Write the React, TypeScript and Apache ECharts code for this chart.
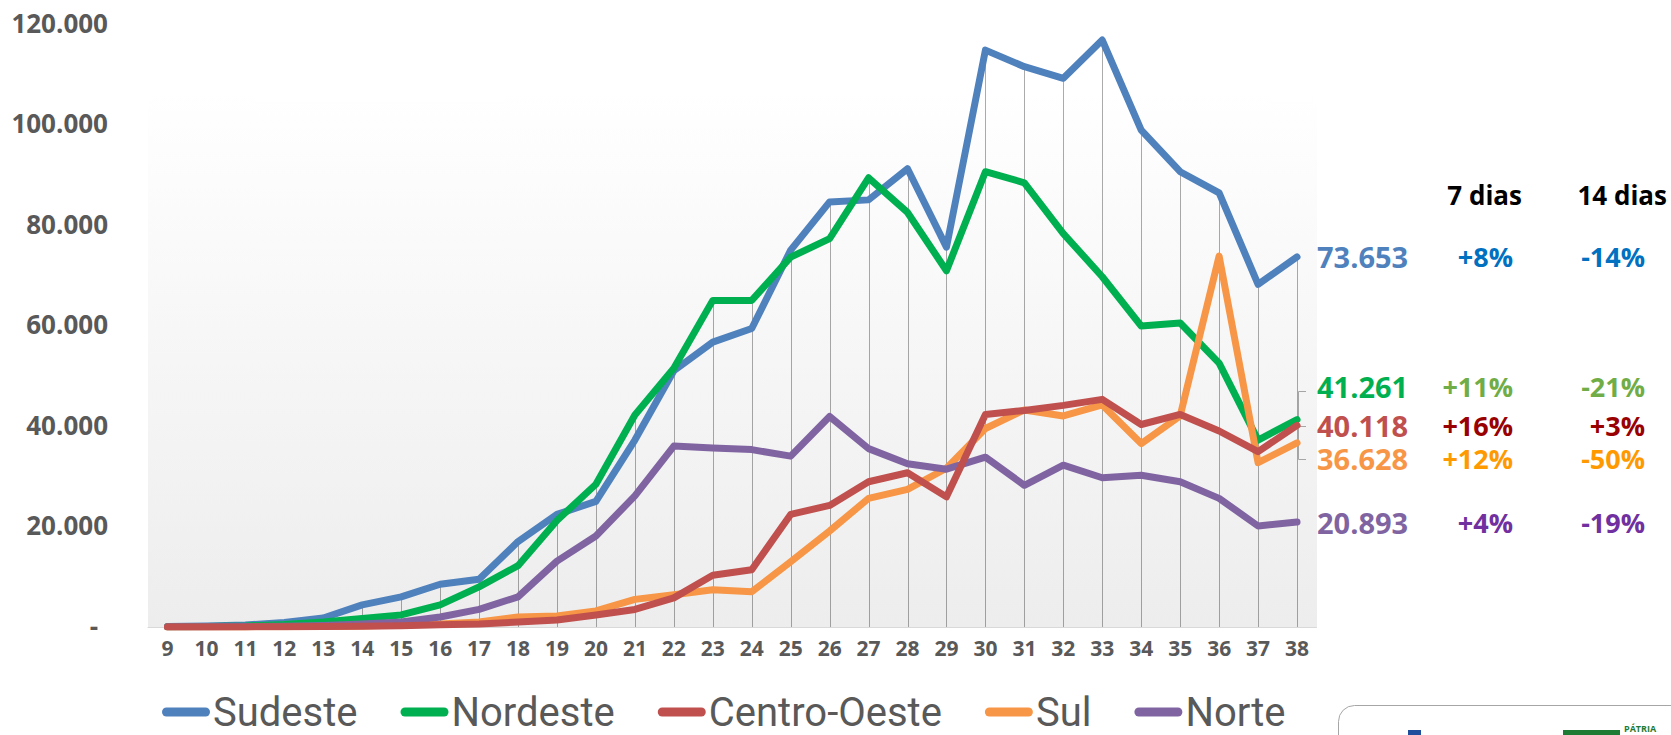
import React, { useEffect, useRef } from 'react';
import * as echarts from 'echarts';

const weeks = ['9', '10', '11', '12', '13', '14', '15', '16', '17', '18', '19', '20', '21', '22', '23', '24', '25', '26', '27', '28', '29', '30', '31', '32', '33', '34', '35', '36', '37', '38'];

const sudeste = [100, 200, 400, 900, 1800, 4400, 6000, 8500, 9500, 17000, 22400, 25000, 37200, 51000, 56700, 59400, 75000, 84600, 85000, 91200, 75600, 114800, 111500, 109200, 116800, 98900, 90600, 86400, 68200, 73653];
const nordeste = [50, 100, 200, 500, 1000, 1700, 2400, 4400, 8000, 12200, 21200, 28400, 42200, 51500, 65000, 65000, 73600, 77300, 89400, 82500, 70900, 90600, 88400, 78300, 69700, 59900, 60500, 52500, 37200, 41261];
const centroOeste = [0, 0, 20, 50, 100, 150, 250, 450, 600, 1000, 1400, 2400, 3500, 5800, 10300, 11400, 22400, 24200, 28900, 30700, 25900, 42300, 43100, 44100, 45300, 40300, 42300, 39000, 34900, 40118];
const sul = [0, 0, 20, 50, 100, 200, 400, 600, 1000, 2000, 2200, 3200, 5500, 6400, 7400, 7000, 13000, 19100, 25600, 27400, 31600, 39500, 43200, 42000, 44200, 36500, 42000, 73800, 32700, 36628];
const norte = [50, 50, 100, 150, 300, 600, 1000, 2000, 3500, 6000, 13100, 18100, 26100, 36000, 35600, 35300, 34000, 41900, 35500, 32500, 31400, 33800, 28200, 32200, 29700, 30200, 28900, 25600, 20100, 20893];

const seriesNames = ['Sudeste', 'Nordeste', 'Centro-Oeste', 'Sul', 'Norte'];
const seriesData = [sudeste, nordeste, centroOeste, sul, norte];
const lineColors = ['#4f81bd', '#00b050', '#c0504d', '#f79646', '#8064a2'];
const pctColors = ['#0070c0', '#70ad47', '#990000', '#ff9900', '#7030a0'];
const change7 = ['+8%', '+11%', '+16%', '+12%', '+4%'];
const change14 = ['-14%', '-21%', '+3%', '-50%', '-19%'];
const periodHeaders = ['7 dias', '14 dias'];
const labelOffsets = [0, -33, 0, 16, 0];
const drawOrder = [2, 3, 6, 4, 5];

const yMin = 0;
const yMax = 120000;
const yStep = 20000;

const FONT = "'Open Sans', sans-serif";

function fmt(v: number): string {
  if (v === 0) return '-';
  return Math.round(v).toString().replace(/\B(?=(\d{3})+(?!\d))/g, '.');
}

export default function App() {
  const ref = useRef<HTMLDivElement>(null);

  useEffect(() => {
    if (!ref.current) return;
    const chart = echarts.init(ref.current, undefined, { renderer: 'svg' });

    const maxes = weeks.map((_, i) => [i, Math.max(...seriesData.map((s) => s[i]))]);

    const lineSeries = seriesNames.map((name, k) => ({
      name,
      type: 'line',
      data: seriesData[k],
      symbol: 'none',
      z: drawOrder[k],
      lineStyle: { width: 7, color: lineColors[k], cap: 'round', join: 'round' },
      itemStyle: { color: lineColors[k] },
      endLabel: {
        show: true,
        distance: 20,
        offset: [0, labelOffsets[k]],
        formatter: (p: any) => `{v|${fmt(p.value)}}{a|${change7[k]}}{b|${change14[k]}}`,
        rich: {
          v: { color: lineColors[k], fontSize: 29, fontWeight: 'bold', fontFamily: FONT, width: 130, align: 'left', lineHeight: 30 },
          a: { color: pctColors[k], fontSize: 27, fontWeight: 'bold', fontFamily: FONT, width: 66, align: 'right', lineHeight: 30 },
          b: { color: pctColors[k], fontSize: 27, fontWeight: 'bold', fontFamily: FONT, width: 132, align: 'right', lineHeight: 30 },
        },
      },
    }));

    const option: any = {
      animation: false,
      backgroundColor: '#ffffff',
      grid: { left: 148, right: 354.5, top: 24, bottom: 108, containLabel: false },
      legend: {
        data: seriesNames,
        left: 157,
        top: 686,
        itemWidth: 48,
        itemHeight: 9,
        itemGap: 43,
        icon: 'path://M4.5,0 L43.5,0 A4.5,4.5 0 0 1 43.5,9 L4.5,9 A4.5,4.5 0 0 1 4.5,0 Z',
        textStyle: {
          fontSize: 40,
          lineHeight: 42,
          fontFamily: "Roboto, sans-serif",
          color: '#595959',
          padding: [0, 0, 0, -2],
        },
      },
      xAxis: {
        type: 'category',
        data: weeks,
        boundaryGap: true,
        axisTick: { show: false },
        axisLine: { show: true, lineStyle: { color: '#d9d9d9', width: 1 } },
        axisLabel: { fontSize: 21, fontWeight: 'bold', color: '#595959', fontFamily: FONT, margin: 10, interval: 0 },
        splitLine: { show: false },
      },
      yAxis: {
        type: 'value',
        min: yMin,
        max: yMax,
        interval: yStep,
        axisLine: { show: false },
        axisTick: { show: false },
        splitLine: { show: false },
        axisLabel: {
          margin: 40,
          fontSize: 26,
          fontWeight: 'bold',
          color: '#595959',
          fontFamily: FONT,
          padding: [0, 0, 3, 0],
          formatter: (v: number) => (v === 0 ? '{d|-}' : fmt(v)),
          rich: {
            d: { fontSize: 26, fontWeight: 'bold', color: '#595959', fontFamily: FONT, padding: [0, 10, 0, 0] },
          },
        },
      },
      graphic: [
        {
          type: 'rect',
          z: -1,
          silent: true,
          shape: { x: 148, y: 90, width: 1169, height: 537 },
          style: {
            fill: new echarts.graphic.LinearGradient(0, 0, 0, 1, [
              { offset: 0, color: '#ffffff' },
              { offset: 1, color: '#ededed' },
            ]),
          },
        },
        {
          type: 'text',
          x: 1522,
          y: 195,
          style: { text: periodHeaders[0], fontSize: 26, fontWeight: 'bold', fontFamily: FONT, fill: '#000000', align: 'right', verticalAlign: 'middle' },
        },
        {
          type: 'text',
          x: 1667,
          y: 195,
          style: { text: periodHeaders[1], fontSize: 26, fontWeight: 'bold', fontFamily: FONT, fill: '#000000', align: 'right', verticalAlign: 'middle' },
        },
        {
          type: 'polyline',
          silent: true,
          shape: { points: [[1306, 391.5], [1298.5, 391.5], [1298.5, 459.5], [1306, 459.5]] },
          style: { stroke: '#a6a6a6', lineWidth: 1, fill: null },
        },
        {
          type: 'line',
          silent: true,
          shape: { x1: 1298.5, y1: 426.5, x2: 1306, y2: 426.5 },
          style: { stroke: '#a6a6a6', lineWidth: 1 },
        },
        {
          type: 'rect',
          silent: true,
          shape: { x: 1338.5, y: 705.5, width: 400, height: 80, r: 16 },
          style: { stroke: '#a6a6a6', lineWidth: 1, fill: '#ffffff' },
        },
        {
          type: 'rect',
          silent: true,
          shape: { x: 1408, y: 730, width: 13, height: 8 },
          style: { fill: '#1f4e9c' },
        },
        {
          type: 'rect',
          silent: true,
          shape: { x: 1563, y: 730, width: 57, height: 8 },
          style: { fill: '#1e7b34' },
        },
        {
          type: 'text',
          x: 1624,
          y: 724,
          style: { text: 'PÁTRIA', fontSize: 9, fontWeight: 'bold', fontFamily: FONT, fill: '#1e7b34', align: 'left', verticalAlign: 'top' },
        },
      ],
      series: [
        {
          type: 'custom',
          name: 'drop',
          silent: true,
          z: 1,
          data: maxes,
          encode: { x: 0, y: 1 },
          renderItem: (params: any, api: any) => {
            const top = api.coord([api.value(0), api.value(1)]);
            const bot = api.coord([api.value(0), 0]);
            const x = Math.round(top[0]) + 0.5;
            return {
              type: 'line',
              shape: { x1: x, y1: top[1], x2: x, y2: bot[1] },
              style: { stroke: 'rgba(0,0,0,0.33)', lineWidth: 1 },
            };
          },
        },
        ...lineSeries,
      ],
    };

    chart.setOption(option);
    return () => {
      chart.dispose();
    };
  }, []);

  return <div ref={ref} style={{ position: 'absolute', left: 0, top: 0, width: 1671, height: 735 }} />;
}
